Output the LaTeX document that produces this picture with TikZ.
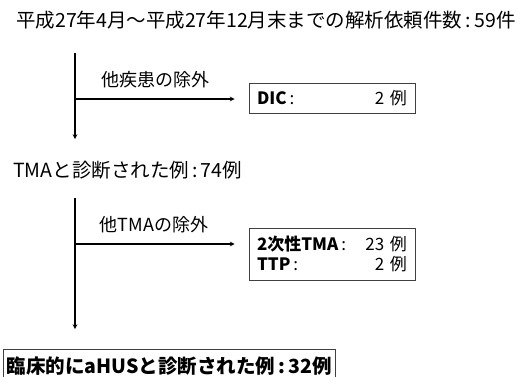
\documentclass[tikz,border=0pt]{standalone}
\usepackage{fontspec}
\setmainfont{Noto Sans CJK JP}
\usepackage{tikz}
\usetikzlibrary{arrows, positioning}
\usetikzlibrary{calc}
\usepackage{xcolor}

\begin{document}
\begin{tikzpicture}[x=1pt, y=-1pt,
		stage/.style={inner sep = 0pt, anchor = west, font = \fontsize{19.5}{22}\selectfont},
		cut/.style={inner sep = 0pt, font = \fontsize{18}{21}\selectfont},
		outbox/.style={draw = black!75, line width = 0.8pt, inner xsep = 8pt, inner ysep = 4pt, text width = 150pt, font = \fontsize{17}{20}\selectfont},
		flow/.style={->, >=stealth, line width = 1.1pt}]
		\useasboundingbox (0,0) rectangle (527,376);
		\draw (16,20) node[stage] (all){平成27年4月～平成27年12月末までの解析依頼件数\,:\,59件}
		(13,170) node[stage] (tma) {TMAと診断された例\,:\,74例}
		(155,80) node[cut] (lbl1) {他疾患の除外}
		(154,225) node[cut] (lbl2) {他TMAの除外}
		(332,98) node[outbox, minimum height = 30pt] (dic) {\textbf{DIC}\,:\hfill 2 例}
		(332,254) node[outbox, minimum height = 52pt] (sec) {\textbf{2次性TMA}\,:\hfill 23 例\\ \textbf{TTP}\,:\hfill 2 例}
		(169.5,366) node[draw = black!75, line width = 0.8pt, minimum width = 331pt, minimum height = 34pt, font = \fontsize{19.5}{22}\bfseries\selectfont] (ahus) {臨床的にaHUSと診断された例\,:\,32例};
		
		\coordinate (s1) at (75,53);
		\coordinate (j1) at (75,99);
		\coordinate (e1) at (75,139);
		\coordinate (s2) at (75,198);
		\coordinate (j2) at (75,244);
		\coordinate (e2) at (75,329);
		
		\draw[flow] (s1) -- (e1);
		\draw[flow, shorten >= 14pt] (j1) -- (j1 -| dic.west);
		\draw[flow] (s2) -- (e2);
		\draw[flow, shorten >= 14pt] (j2) -- (j2 -| sec.west);
	\end{tikzpicture}
\end{document}
